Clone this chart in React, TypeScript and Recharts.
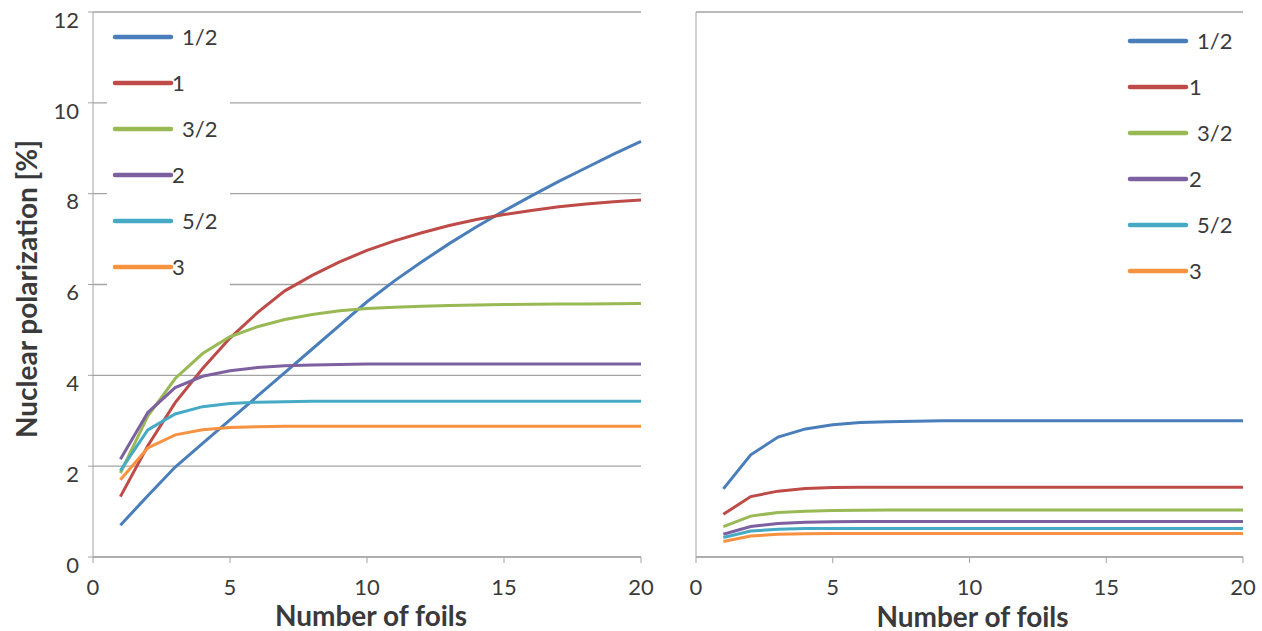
import React from 'react'
import { CartesianGrid, Legend, Line, LineChart, XAxis, YAxis } from 'recharts'

const foils = [1, 2, 3, 4, 5, 6, 7, 8, 9, 10, 11, 12, 13, 14, 15, 16, 17, 18, 19, 20]
const spinLabels = ['1/2', '1', '3/2', '2', '5/2', '3']
const spinColors = ['#4A7EBB', '#BE4B48', '#98B954', '#7D60A0', '#46AAC5', '#F69240']
const xTicks = [0, 5, 10, 15, 20]
const yTicks = [0, 2, 4, 6, 8, 10, 12]

// left panel
const leftHalf = [0.7, 1.35, 1.98, 2.5, 3.02, 3.54, 4.06, 4.58, 5.1, 5.62, 6.08, 6.5, 6.9, 7.27, 7.62, 7.95, 8.27, 8.57, 8.87, 9.15]
const leftOne = [1.33, 2.45, 3.4, 4.15, 4.82, 5.38, 5.86, 6.2, 6.5, 6.75, 6.96, 7.14, 7.3, 7.43, 7.54, 7.63, 7.71, 7.77, 7.82, 7.86]
const leftThreeHalves = [1.85, 3.1, 3.93, 4.48, 4.85, 5.07, 5.23, 5.34, 5.42, 5.47, 5.5, 5.52, 5.54, 5.55, 5.56, 5.565, 5.57, 5.57, 5.575, 5.58]
const leftTwo = [2.15, 3.18, 3.73, 3.98, 4.1, 4.17, 4.21, 4.23, 4.24, 4.25, 4.25, 4.25, 4.25, 4.25, 4.25, 4.25, 4.25, 4.25, 4.25, 4.25]
const leftFiveHalves = [1.9, 2.8, 3.15, 3.31, 3.38, 3.41, 3.42, 3.43, 3.43, 3.43, 3.43, 3.43, 3.43, 3.43, 3.43, 3.43, 3.43, 3.43, 3.43, 3.43]
const leftThree = [1.7, 2.4, 2.69, 2.8, 2.85, 2.87, 2.88, 2.88, 2.88, 2.88, 2.88, 2.88, 2.88, 2.88, 2.88, 2.88, 2.88, 2.88, 2.88, 2.88]

// right panel
const rightHalf = [1.5, 2.25, 2.64, 2.82, 2.91, 2.96, 2.98, 2.99, 3.0, 3.0, 3.0, 3.0, 3.0, 3.0, 3.0, 3.0, 3.0, 3.0, 3.0, 3.0]
const rightOne = [0.94, 1.33, 1.45, 1.51, 1.53, 1.535, 1.535, 1.535, 1.535, 1.535, 1.535, 1.535, 1.535, 1.535, 1.535, 1.535, 1.535, 1.535, 1.535, 1.535]
const rightThreeHalves = [0.67, 0.9, 0.98, 1.01, 1.025, 1.03, 1.035, 1.035, 1.035, 1.035, 1.035, 1.035, 1.035, 1.035, 1.035, 1.035, 1.035, 1.035, 1.035, 1.035]
const rightTwo = [0.5, 0.67, 0.74, 0.765, 0.775, 0.78, 0.78, 0.78, 0.78, 0.78, 0.78, 0.78, 0.78, 0.78, 0.78, 0.78, 0.78, 0.78, 0.78, 0.78]
const rightFiveHalves = [0.43, 0.57, 0.61, 0.625, 0.63, 0.63, 0.63, 0.63, 0.63, 0.63, 0.63, 0.63, 0.63, 0.63, 0.63, 0.63, 0.63, 0.63, 0.63, 0.63]
const rightThree = [0.34, 0.46, 0.5, 0.51, 0.52, 0.52, 0.52, 0.52, 0.52, 0.52, 0.52, 0.52, 0.52, 0.52, 0.52, 0.52, 0.52, 0.52, 0.52, 0.52]

const FONT = 'Lato, "Open Sans", sans-serif'
const TEXT = '#3a3a3a'
const GRID = '#a3a3a3'

function buildRows(series: number[][]) {
  return foils.map((n, i) => {
    const row: Record<string, number> = { foils: n }
    series.forEach((values, k) => {
      row[`s${k}`] = values[i]
    })
    return row
  })
}

const leftRows = buildRows([leftHalf, leftOne, leftThreeHalves, leftTwo, leftFiveHalves, leftThree])
const rightRows = buildRows([rightHalf, rightOne, rightThreeHalves, rightTwo, rightFiveHalves, rightThree])

function YTick(props: any) {
  return (
    <text x={props.x} y={props.y + 8} dy="0.35em" textAnchor="end" fill={TEXT} fontSize={22} fontFamily={FONT}>
      {props.payload.value}
    </text>
  )
}

function XTick(props: any) {
  return (
    <text x={props.x} y={props.y + 32} textAnchor="middle" fill={TEXT} fontSize={22} fontFamily={FONT}>
      {props.payload.value}
    </text>
  )
}

function makeLegend(intX: number, fracX: number, firstY: number) {
  return function SpinLegend(props: any) {
    const items = [...(props.payload || [])].sort(
      (a: any, b: any) => spinLabels.indexOf(a.value) - spinLabels.indexOf(b.value),
    )
    return (
      <svg width={140} height={290} style={{ display: 'block' }}>
        {items.map((item: any, i: number) => {
          const y = firstY + i * 46
          const isFraction = String(item.value).includes('/')
          return (
            <g key={item.value}>
              <line x1={8} x2={64} y1={y} y2={y} stroke={item.color} strokeWidth={4.5} strokeLinecap="round" />
              <text
                x={isFraction ? fracX : intX}
                y={y}
                dy="0.36em"
                fill={TEXT}
                fontSize={22}
                fontFamily={FONT}
              >
                {item.value}
              </text>
            </g>
          )
        })}
      </svg>
    )
  }
}

const LeftLegend = makeLegend(65, 75, 23)
const RightLegend = makeLegend(67, 75, 25)

function Panel(props: {
  rows: Record<string, number>[]
  width: number
  axisWidth: number
  showYLabels: boolean
  legend: (p: any) => React.ReactElement
  legendBox: React.CSSProperties
  xTitle: { dx: number; dy: number }
}) {
  const { rows, width, axisWidth, showYLabels, legend, legendBox, xTitle } = props
  return (
    <LineChart width={width} height={631} data={rows} margin={{ top: 12, right: 19, left: 0, bottom: 0 }}>
      <CartesianGrid vertical={false} stroke={GRID} strokeWidth={1.3} />
      <XAxis
        dataKey="foils"
        type="number"
        domain={[0, 20]}
        ticks={xTicks}
        height={74}
        tickSize={6}
        tickMargin={0}
        stroke={GRID}
        tick={XTick}
        label={(p: any) => {
          const vb = p.viewBox || {}
          return (
            <text
              x={(vb.x ?? 0) + (vb.width ?? 0) / 2 + xTitle.dx}
              y={(vb.y ?? 0) + xTitle.dy}
              textAnchor="middle"
              fill={TEXT}
              fontSize={28}
              fontWeight="bold"
              fontFamily={FONT}
            >
              Number of foils
            </text>
          )
        }}
      />
      <YAxis
        type="number"
        domain={[0, 12]}
        ticks={yTicks}
        width={axisWidth}
        tickSize={5}
        tickMargin={9}
        stroke={GRID}
        tick={showYLabels ? YTick : false}
        label={
          showYLabels
            ? () => (
                <text
                  transform="translate(37, 289) rotate(-90)"
                  textAnchor="middle"
                  fill={TEXT}
                  fontSize={28}
                  fontWeight="bold"
                  fontFamily={FONT}
                >
                  Nuclear polarization [%]
                </text>
              )
            : undefined
        }
      />
      <Legend
        layout="vertical"
        align="center"
        verticalAlign="middle"
        content={legend}
        wrapperStyle={{ ...legendBox, background: '#fff', overflow: 'hidden' }}
      />
      {spinLabels.map((label, k) => (
        <Line
          key={label}
          type="linear"
          dataKey={`s${k}`}
          name={label}
          stroke={spinColors[k]}
          strokeWidth={3}
          dot={false}
          activeDot={false}
          isAnimationActive={false}
        />
      ))}
    </LineChart>
  )
}

export default function App() {
  return (
    <div style={{ position: 'absolute', left: 0, top: 0, width: 1262, height: 631, background: '#fff' }}>
      <div style={{ position: 'absolute', left: 0, top: 0 }}>
        <Panel
          rows={leftRows}
          width={660}
          axisWidth={93}
          showYLabels
          legend={LeftLegend}
          legendBox={{ left: 107, top: 14, width: 123, height: 276 }}
          xTitle={{ dx: 4, dy: 69 }}
        />
      </div>
      <div style={{ position: 'absolute', left: 660, top: 0 }}>
        <Panel
          rows={rightRows}
          width={602}
          axisWidth={36}
          showYLabels={false}
          legend={RightLegend}
          legendBox={{ left: 462, top: 16, width: 140, height: 282 }}
          xTitle={{ dx: 3, dy: 69.5 }}
        />
      </div>
    </div>
  )
}
